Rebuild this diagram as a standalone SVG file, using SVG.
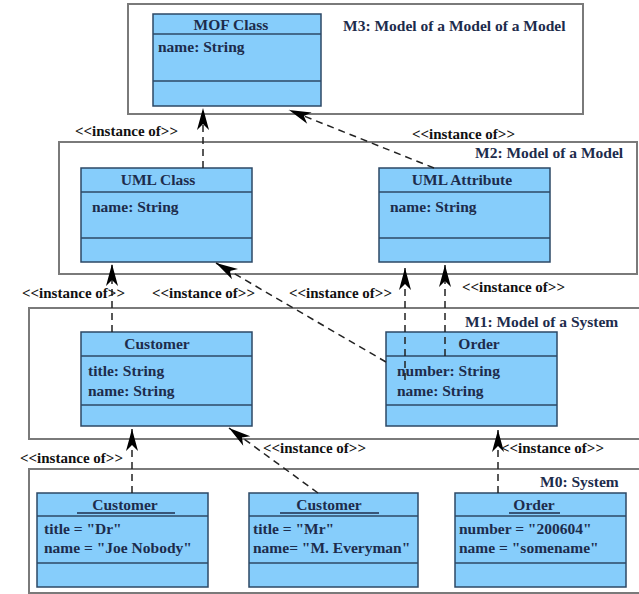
<svg xmlns="http://www.w3.org/2000/svg" width="639" height="594" viewBox="0 0 639 594">
  <defs>
    <marker id="arrow" markerUnits="userSpaceOnUse" markerWidth="26" markerHeight="16" viewBox="-23 -8 26 16" refX="0" refY="0" orient="auto">
      <path d="M0,0 L-22,-6 L-16,0 L-22,6 Z" fill="#000"/>
    </marker>
    <style>
      .frame { fill: #fff; stroke: #7a7a7a; stroke-width: 2; }
      .box { fill: #86cdfb; stroke: #2c4866; stroke-width: 1.5; }
      .div { stroke: #2c4866; stroke-width: 1.5; }
      text { font-family: "Liberation Serif", "Times New Roman", serif; font-weight: bold; font-size: 15.5px; fill: #1d2c4c; }
      .title { text-anchor: middle; }
      .lbl { fill: #111; font-size: 15px; }
      .conn { fill: none; stroke: #222; stroke-width: 1.5; stroke-dasharray: 7 5; marker-end: url(#arrow); }
      .ul { stroke: #1d2c4c; stroke-width: 1.3; }
    </style>
  </defs>

  <!-- layer frames -->
  <g id="layer-m3">
    <rect class="frame" x="128" y="4" width="455" height="110"/>
    <text x="343" y="31">M3: Model of a Model of a Model</text>
  </g>
  <g id="layer-m2">
    <rect class="frame" x="59" y="142" width="578" height="132"/>
    <text x="475" y="158">M2: Model of a Model</text>
  </g>
  <g id="layer-m1">
    <rect class="frame" x="29" y="308" width="620" height="131"/>
    <text x="465" y="327">M1: Model of a System</text>
  </g>
  <g id="layer-m0">
    <rect class="frame" x="29" y="469" width="620" height="124"/>
    <text x="540" y="487">M0: System</text>
  </g>

  <!-- M3 -->
  <g id="mof-class">
    <rect class="box" x="153" y="14" width="168" height="92"/>
    <line class="div" x1="153" y1="34" x2="321" y2="34"/>
    <line class="div" x1="153" y1="81" x2="321" y2="81"/>
    <text class="title" x="231" y="30">MOF Class</text>
    <text x="158" y="52">name: String</text>
  </g>

  <!-- M2 -->
  <g id="uml-class">
    <rect class="box" x="81" y="168" width="171" height="94"/>
    <line class="div" x1="81" y1="192" x2="252" y2="192"/>
    <line class="div" x1="81" y1="238" x2="252" y2="238"/>
    <text class="title" x="158" y="185">UML Class</text>
    <text x="92" y="212">name: String</text>
  </g>
  <g id="uml-attribute">
    <rect class="box" x="379" y="168" width="171" height="94"/>
    <line class="div" x1="379" y1="192" x2="550" y2="192"/>
    <line class="div" x1="379" y1="238" x2="550" y2="238"/>
    <text class="title" x="462" y="185">UML Attribute</text>
    <text x="390" y="212">name: String</text>
  </g>

  <!-- M1 -->
  <g id="customer-class">
    <rect class="box" x="81" y="332" width="171" height="94"/>
    <line class="div" x1="81" y1="356" x2="252" y2="356"/>
    <line class="div" x1="81" y1="405" x2="252" y2="405"/>
    <text class="title" x="157" y="349">Customer</text>
    <text x="88" y="376">title: String</text>
    <text x="88" y="396">name: String</text>
  </g>
  <g id="order-class">
    <rect class="box" x="386" y="332" width="171" height="94"/>
    <line class="div" x1="386" y1="356" x2="557" y2="356"/>
    <line class="div" x1="386" y1="405" x2="557" y2="405"/>
    <text class="title" x="479" y="349">Order</text>
    <text x="397" y="376">number: String</text>
    <text x="397" y="396">name: String</text>
  </g>

  <!-- M0 -->
  <g id="customer-dr">
    <rect class="box" x="37" y="493" width="171" height="94"/>
    <line class="div" x1="37" y1="516" x2="208" y2="516"/>
    <line class="div" x1="37" y1="563" x2="208" y2="563"/>
    <text class="title" x="125" y="510">Customer</text>
    <line class="ul" x1="77" y1="513" x2="175" y2="513"/>
    <text x="44" y="534">title = "Dr"</text>
    <text x="44" y="553">name = "Joe Nobody"</text>
  </g>
  <g id="customer-mr">
    <rect class="box" x="249" y="493" width="169" height="94"/>
    <line class="div" x1="249" y1="516" x2="418" y2="516"/>
    <line class="div" x1="249" y1="563" x2="418" y2="563"/>
    <text class="title" x="329" y="510">Customer</text>
    <line class="ul" x1="280" y1="513" x2="379" y2="513"/>
    <text x="253" y="534">title = "Mr"</text>
    <text x="253" y="553">name= "M. Everyman"</text>
  </g>
  <g id="order-200604">
    <rect class="box" x="455" y="493" width="171" height="94"/>
    <line class="div" x1="455" y1="516" x2="626" y2="516"/>
    <line class="div" x1="455" y1="563" x2="626" y2="563"/>
    <text class="title" x="534" y="510">Order</text>
    <line class="ul" x1="509" y1="513" x2="560" y2="513"/>
    <text x="459" y="534">number = "200604"</text>
    <text x="459" y="553">name = "somename"</text>
  </g>

  <!-- instance-of connectors -->
  <g id="connectors">
    <line class="conn" x1="203" y1="168" x2="203" y2="108"/>
    <line class="conn" x1="434" y1="168" x2="289" y2="110"/>
    <line class="conn" x1="112" y1="332" x2="112" y2="264"/>
    <line class="conn" x1="386" y1="362" x2="216" y2="263"/>
    <line class="conn" x1="405" y1="380" x2="405" y2="268"/>
    <line class="conn" x1="445" y1="356" x2="445" y2="265"/>
    <line class="conn" x1="132" y1="493" x2="132" y2="429"/>
    <line class="conn" x1="318" y1="493" x2="229" y2="428"/>
    <line class="conn" x1="498" y1="493" x2="498" y2="430"/>
  </g>

  <!-- connector labels -->
  <g id="labels">
    <text class="lbl" x="75" y="136">&lt;&lt;instance of&gt;&gt;</text>
    <text class="lbl" x="412" y="139">&lt;&lt;instance of&gt;&gt;</text>
    <text class="lbl" x="22" y="298">&lt;&lt;instance of&gt;&gt;</text>
    <text class="lbl" x="152" y="298">&lt;&lt;instance of&gt;&gt;</text>
    <text class="lbl" x="289" y="298">&lt;&lt;instance of&gt;&gt;</text>
    <text class="lbl" x="462" y="292">&lt;&lt;instance of&gt;&gt;</text>
    <text class="lbl" x="20" y="463">&lt;&lt;instance of&gt;&gt;</text>
    <text class="lbl" x="263" y="453">&lt;&lt;instance of&gt;&gt;</text>
    <text class="lbl" x="501" y="453">&lt;&lt;instance of&gt;&gt;</text>
  </g>
</svg>
